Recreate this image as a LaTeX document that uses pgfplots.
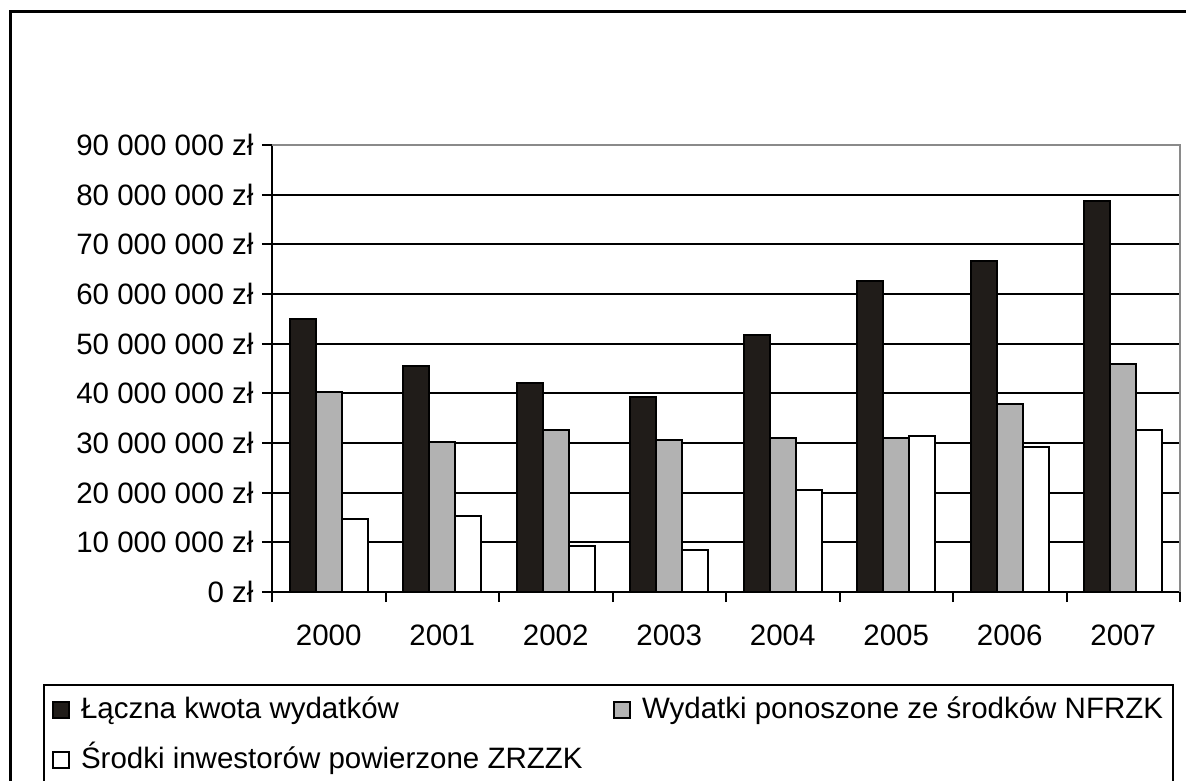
\documentclass[border=0pt]{standalone}
\usepackage{fontspec}
\setmainfont{Liberation Sans}
\usepackage{pgfplots}
\pgfplotsset{compat=1.18}
\definecolor{barblack}{HTML}{201C19}
\definecolor{bargray}{HTML}{B2B2B2}
\definecolor{framegray}{HTML}{8A8A8A}
\begin{document}
\begin{tikzpicture}[x=1pt,y=1pt]
\useasboundingbox (0,0) rectangle (1186,-781);
\draw[line width=3pt] (10,-800) -- (10,-12) -- (1200,-12);
\begin{axis}[
  at={(272pt,-592pt)}, anchor=south west,
  scale only axis, width=908pt, height=447pt,
  xmin=-0.5, xmax=7.5, ymin=0, ymax=90,
  ybar=0pt, bar width=26pt,
  axis x line*=bottom, axis y line*=left,
  axis line style={line width=2.5pt, black, -},
  xtick={0,...,7},
  xticklabels={2000,2001,2002,2003,2004,2005,2006,2007},
  major x tick style={draw=none},
  minor xtick={-0.5,0.5,...,7.5},
  minor tick length=10pt,
  major tick length=10pt,
  tick align=outside,
  tick style={black, line width=2pt},
  ytick={0,10,...,90},
  yticklabels={0 zł,10 000 000 zł,20 000 000 zł,30 000 000 zł,40 000 000 zł,50 000 000 zł,60 000 000 zł,70 000 000 zł,80 000 000 zł,90 000 000 zł},
  ymajorgrids, grid style={black, line width=2pt},
  tick label style={font=\fontsize{29.5}{35}\selectfont},
  yticklabel style={xshift=-5pt},
  xticklabel style={yshift=-19pt},
  every axis plot post/.append style={legend image code/.code={\draw[#1, line width=2pt] (0pt,-8pt) rectangle (16pt,8pt);}},
  legend columns=2,
  legend cell align=left,
  legend style={at={(rel axis cs:-0.2522,-0.2058)}, anchor=north west,
    draw=black, line width=2pt, inner xsep=8pt, inner ysep=10pt,
    font=\fontsize{29.5}{35}\selectfont,
    nodes={inner sep=2pt, text height=22pt, text depth=5pt},
    row sep=19pt,
    /tikz/every odd column/.append style={column sep=9pt},
    /tikz/every even column/.append style={column sep=8pt}},
  after end axis/.code={\draw[framegray, line width=2.5pt] (rel axis cs:0,1) -- (rel axis cs:1,1) -- (rel axis cs:1,0);},
]
\addplot[fill=barblack, draw=black, line width=2pt] coordinates {(0,54.9)(1,45.6)(2,42.0)(3,39.2)(4,51.7)(5,62.6)(6,66.6)(7,78.8)};
\addlegendentry{\makebox[522pt][l]{Łączna kwota wydatków}}
\addplot[fill=bargray, draw=black, line width=2pt] coordinates {(0,40.3)(1,30.2)(2,32.7)(3,30.6)(4,31.0)(5,31.0)(6,37.9)(7,46.0)};
\addlegendentry{Wydatki ponoszone ze środków NFRZK}
\addplot[fill=white, draw=black, line width=2pt] coordinates {(0,14.6)(1,15.3)(2,9.3)(3,8.5)(4,20.6)(5,31.5)(6,29.1)(7,32.7)};
\addlegendentry{\makebox[522pt][l]{Środki inwestorów powierzone ZRZZK}}
\end{axis}
\end{tikzpicture}
\end{document}
